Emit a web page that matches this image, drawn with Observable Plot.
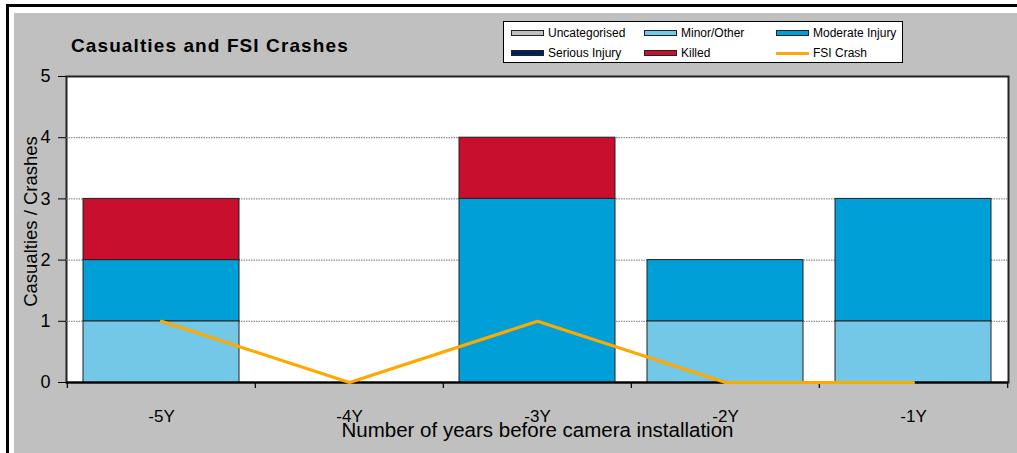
<!DOCTYPE html>
<html>
<head>
<meta charset="utf-8">
<script src="https://cdn.jsdelivr.net/npm/d3@7"></script>
<script src="https://cdn.jsdelivr.net/npm/@observablehq/plot@0.6"></script>
<style>
  html, body { margin: 0; padding: 0; background: #fff; overflow: hidden; }
  body { width: 1017px; height: 453px; position: relative; font-family: "Liberation Sans", Arial, sans-serif; }
  #outer { position: absolute; left: 6px; top: 4px; width: 1100px; height: 500px;
           border-left: 3px solid #000; border-top: 3px solid #000; background: #fff; }
  #gray { position: absolute; left: 14px; top: 13px; width: 1100px; height: 500px; background: #C0C0C0; }
  #title { position: absolute; left: 71px; top: 35px; font-size: 19px; letter-spacing: 1.1px; font-weight: bold; color: #000; white-space: nowrap; }
  #legend { position: absolute; left: 503px; top: 21px; width: 398px; height: 40px; border: 1px solid #000; background: #fff; }
  .item { position: absolute; display: flex; align-items: center; height: 14px; font-size: 12px; color: #000; white-space: nowrap; }
  .sw { width: 31px; height: 4px; border: 1px solid #222; margin-right: 4px; }
  .ln { width: 33px; height: 3px; margin-right: 4px; }
  #chart svg { position: absolute; left: 0; top: 0; }
</style>
</head>
<body>
<div id="outer"></div>
<div id="gray"></div>
<div id="chart"></div>
<div id="title">Casualties and FSI Crashes</div>
<div id="legend"></div>
<script>
// ---- Data ----
const years = ["-5Y", "-4Y", "-3Y", "-2Y", "-1Y"];
const uncategorised = [0, 0, 0, 0, 0];
const minorOther = [1, 0, 0, 1, 1];
const moderateInjury = [1, 0, 3, 1, 2];
const seriousInjury = [0, 0, 0, 0, 0];
const killed = [1, 0, 1, 0, 0];
const fsiCrash = [1, 0, 1, 0, 0];
const seriesNames = ["Uncategorised", "Minor/Other", "Moderate Injury", "Serious Injury", "Killed"];
const seriesColors = ["#C0C0C0", "#73C7E7", "#009FD7", "#002060", "#C8102E"];
const lineName = "FSI Crash";
const lineColor = "#FFA800";
const yTicks = [0, 1, 2, 3, 4, 5];
const yGrid = [1, 2, 3, 4];
const yLabel = "Casualties / Crashes";
const xLabel = "Number of years before camera installation";

const seriesValues = [uncategorised, minorOther, moderateInjury, seriousInjury, killed];
const rows = [];
seriesNames.forEach((s, si) => years.forEach((y, i) => {
  if (seriesValues[si][i] > 0) rows.push({year: y, series: s, value: seriesValues[si][i]});
}));
const lineRows = years.map((y, i) => ({year: y, value: fsiCrash[i]}));

// ---- Layout ----
const W = 1017, H = 453;
const mL = 66, mR = 9, mT = 76, mB = 71;
const step = (W - mL - mR) / years.length;

const font = '"Liberation Sans", Arial, sans-serif';

const chart = Plot.plot({
  width: W, height: H,
  marginLeft: mL, marginRight: mR, marginTop: mT, marginBottom: mB,
  style: {background: "transparent", fontFamily: font, fontSize: "16px", color: "#000", overflow: "visible"},
  x: {domain: years, paddingInner: 0.17, paddingOuter: 0.085},
  y: {domain: [0, 5]},
  color: {domain: seriesNames, range: seriesColors},
  marks: [
    Plot.frame({fill: "#fff", stroke: "#222", strokeWidth: 2}),
    Plot.gridY(yGrid, {stroke: "#777", strokeOpacity: 1, strokeDasharray: "1.5,1", strokeWidth: 1}),
    Plot.barY(rows, {x: "year", y: "value", fill: "series", order: seriesNames, stroke: "#222", strokeWidth: 1}),
    Plot.ruleY([0], {stroke: "#000", strokeWidth: 2}),
    Plot.ruleX(years, {x: d => d, y1: 0, y2: 0, insetBottom: -6, dx: -step / 2, stroke: "#000", strokeWidth: 1.2}),
    Plot.ruleX([years[years.length - 1]], {x: d => d, y1: 0, y2: 0, insetBottom: -6, dx: step / 2, stroke: "#000", strokeWidth: 1.2}),
    Plot.axisY({ticks: yTicks, tickFormat: d => String(d), tickSize: 8, tickPadding: 8, fontSize: 18, label: null, stroke: "#000"}),
    Plot.axisX({tickSize: 0, tickPadding: 27, fontSize: 17, label: null}),
    Plot.line(lineRows, {x: "year", y: "value", stroke: lineColor, strokeWidth: 3.2}),
    Plot.text([yLabel], {frameAnchor: "left", textAnchor: "middle", rotate: -90, dx: -35, dy: -8, fontSize: 18.5, fill: "#000", text: d => d}),
    Plot.text([xLabel], {frameAnchor: "bottom", lineAnchor: "top", dy: 40, fontSize: 20.5, fill: "#000", text: d => d})
  ]
});
document.getElementById("chart").appendChild(chart);

// ---- Legend ----
const legend = document.getElementById("legend");
const cols = [8, 141, 273];
const rowsY = [4, 24];
const entries = seriesNames.map((n, i) => ({name: n, color: seriesColors[i], type: "box"}))
  .concat([{name: lineName, color: lineColor, type: "line"}]);
entries.forEach((e, i) => {
  const div = document.createElement("div");
  div.className = "item";
  div.style.left = (cols[i % 3] - 1) + "px";
  div.style.top = rowsY[Math.floor(i / 3)] + "px";
  const sw = document.createElement("span");
  sw.className = e.type === "box" ? "sw" : "ln";
  sw.style.background = e.color;
  const t = document.createElement("span");
  t.textContent = e.name;
  div.appendChild(sw);
  div.appendChild(t);
  legend.appendChild(div);
});
</script>
</body>
</html>
